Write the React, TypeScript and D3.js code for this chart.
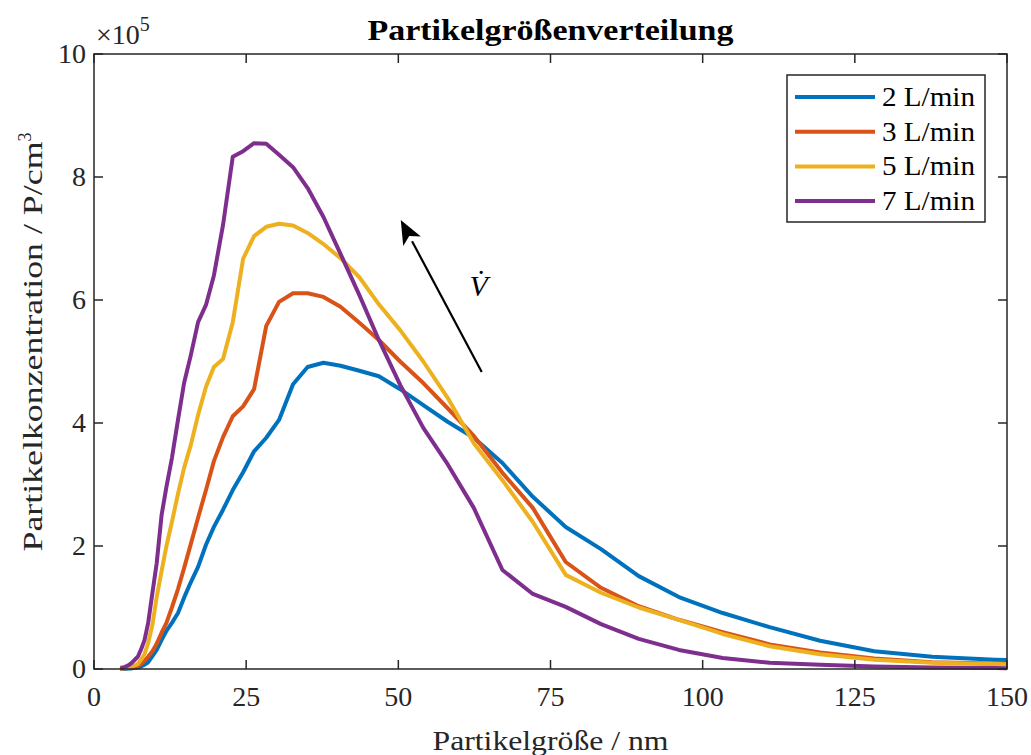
import {useEffect, useRef} from "react";
import * as d3 from "d3";

// particle size channels (nm), log spaced like the SMPS output
const sizes = [4.3, 4.6, 5.0, 5.4, 5.8, 6.2, 6.7, 7.2, 7.7, 8.3, 8.9, 9.6, 10.3, 11.1, 11.9, 12.8, 13.8, 14.8, 15.9, 17.1,
    18.4, 19.7, 21.2, 22.8, 24.5, 26.3, 28.3, 30.4, 32.7, 35.1, 37.7, 40.5, 43.6, 46.8, 50.3, 54.1, 58.1, 62.4, 67.1, 72.1,
    77.5, 83.3, 89.5, 96.1, 103.3, 111.0, 119.3, 128.2, 137.7, 148.0, 159.0];

// concentrations in 1e5 P/cm^3
const flow2 = [0, 0, 0.003, 0.005, 0.01, 0.01, 0.015, 0.025, 0.04, 0.07, 0.11, 0.21, 0.31, 0.47, 0.62, 0.75, 0.91, 1.16, 1.41, 1.66,
    2.02, 2.31, 2.59, 2.91, 3.2, 3.54, 3.76, 4.05, 4.63, 4.91, 4.98, 4.93, 4.85, 4.76, 4.55, 4.29, 4.02, 3.76, 3.35, 2.8,
    2.31, 1.95, 1.51, 1.17, 0.91, 0.68, 0.46, 0.29, 0.2, 0.15, 0.12];
const flow3 = [0, 0.005, 0.01, 0.015, 0.02, 0.025, 0.03, 0.05, 0.08, 0.13, 0.2, 0.29, 0.41, 0.59, 0.75, 1.0, 1.3, 1.64, 2.03, 2.46,
    2.91, 3.38, 3.77, 4.11, 4.27, 4.55, 5.58, 5.97, 6.11, 6.11, 6.05, 5.89, 5.63, 5.35, 5.0, 4.65, 4.24, 3.79, 3.19, 2.62,
    1.74, 1.32, 1.02, 0.8, 0.6, 0.4, 0.27, 0.17, 0.11, 0.09, 0.07];
const flow5 = [0, 0.01, 0.015, 0.025, 0.03, 0.04, 0.06, 0.08, 0.15, 0.24, 0.42, 0.72, 1.17, 1.59, 2.0, 2.39, 2.85, 3.27, 3.64, 4.13,
    4.59, 4.91, 5.04, 5.64, 6.67, 7.04, 7.19, 7.24, 7.21, 7.09, 6.91, 6.68, 6.37, 5.93, 5.51, 5.0, 4.41, 3.67, 3.07, 2.39,
    1.53, 1.24, 1.0, 0.8, 0.57, 0.37, 0.24, 0.15, 0.1, 0.08, 0.06];
const flow7 = [0.02, 0.02, 0.03, 0.05, 0.07, 0.1, 0.15, 0.2, 0.31, 0.47, 0.75, 1.24, 1.72, 2.5, 2.96, 3.43, 4.05, 4.65, 5.1, 5.64,
    5.92, 6.4, 7.22, 8.33, 8.42, 8.55, 8.54, 8.36, 8.16, 7.82, 7.35, 6.75, 6.08, 5.35, 4.62, 3.92, 3.33, 2.62, 1.61, 1.22,
    1.01, 0.73, 0.49, 0.31, 0.18, 0.1, 0.07, 0.04, 0.025, 0.015, 0.01];

const seriesNames = ["2 L/min", "3 L/min", "5 L/min", "7 L/min"];
const seriesColors = ["#0072BD", "#D95319", "#EDB120", "#7E2F8E"];
const xTicks = [0, 25, 50, 75, 100, 125, 150];
const yTicks = [0, 2, 4, 6, 8, 10];

// arrow annotation: from / to in data units
const arrowFrom = [63.7, 4.83];
const arrowTo = [50.4, 7.3];
const arrowLabelAt = [63.2, 6.07];

const FONT = "'Liberation Serif', 'Times New Roman', serif";

export default function App() {
    const ref = useRef<SVGSVGElement>(null);
    const width = 1031, height = 755;
    const left = 94, right = 1007, top = 54, bottom = 669;

    useEffect(() => {
        const svg = d3.select(ref.current);
        svg.selectAll("*").remove();

        const x = d3.scaleLinear().domain([0, 150]).range([left, right]);
        const y = d3.scaleLinear().domain([0, 10]).range([bottom, top]);
        const axisColor = "#262626";

        svg.append("rect").attr("width", width).attr("height", height).attr("fill", "#fff");

        svg.append("defs").append("clipPath").attr("id", "plotclip")
            .append("rect").attr("x", left).attr("y", top - 2).attr("width", right - left).attr("height", bottom - top + 4);

        // lines
        const data = [flow2, flow3, flow5, flow7];
        const line = d3.line<number>()
            .x((_, i) => x(sizes[i]))
            .y(d => y(d));
        svg.append("g").attr("clip-path", "url(#plotclip)")
            .selectAll("path")
            .data(data)
            .join("path")
            .attr("d", d => line(d))
            .attr("fill", "none")
            .attr("stroke", (_, i) => seriesColors[i])
            .attr("stroke-width", 4)
            .attr("stroke-linejoin", "round");

        // axes box with inward ticks
        const tl = 9;
        const g = svg.append("g").attr("stroke", axisColor).attr("stroke-width", 1.5);
        g.append("rect").attr("x", left).attr("y", top).attr("width", right - left).attr("height", bottom - top)
            .attr("fill", "none");
        xTicks.forEach(t => {
            g.append("line").attr("x1", x(t)).attr("x2", x(t)).attr("y1", bottom).attr("y2", bottom - tl);
            g.append("line").attr("x1", x(t)).attr("x2", x(t)).attr("y1", top).attr("y2", top + tl);
        });
        yTicks.forEach(t => {
            g.append("line").attr("x1", left).attr("x2", left + tl).attr("y1", y(t)).attr("y2", y(t));
            g.append("line").attr("x1", right).attr("x2", right - tl).attr("y1", y(t)).attr("y2", y(t));
        });

        const txt = svg.append("g").attr("font-family", FONT).attr("fill", axisColor);
        txt.selectAll(".xt").data(xTicks).join("text")
            .attr("x", d => x(d)).attr("y", 706)
            .attr("text-anchor", "middle").attr("font-size", 28)
            .text(d => d);
        txt.selectAll(".yt").data(yTicks).join("text")
            .attr("x", left - 8).attr("y", d => y(d) + 9)
            .attr("text-anchor", "end").attr("font-size", 28)
            .text(d => d);

        // exponent label
        const ex = txt.append("text").attr("x", left + 2).attr("y", 44).attr("font-size", 28);
        ex.append("tspan").text("×10");
        ex.append("tspan").attr("font-size", 20).attr("dy", -13).text("5");

        // title + axis labels
        svg.append("text").attr("x", (left + right) / 2).attr("y", 40)
            .attr("text-anchor", "middle").attr("font-family", FONT).attr("font-weight", "bold")
            .attr("font-size", 30).attr("fill", "#000")
            .attr("textLength", 366).attr("lengthAdjust", "spacingAndGlyphs")
            .text("Partikelgrößenverteilung");
        txt.append("text").attr("x", (left + right) / 2).attr("y", 750)
            .attr("text-anchor", "middle").attr("font-size", 28)
            .attr("textLength", 236).attr("lengthAdjust", "spacingAndGlyphs")
            .text("Partikelgröße / nm");
        const yl = txt.append("text").attr("transform", "translate(42,342) rotate(-90)")
            .attr("text-anchor", "middle").attr("font-size", 28);
        yl.append("tspan").attr("textLength", 410).attr("lengthAdjust", "spacingAndGlyphs")
            .text("Partikelkonzentration / P/cm");
        yl.append("tspan").attr("font-size", 18).attr("dy", -11).text("3");

        // arrow annotation
        const ax1 = x(arrowFrom[0]), ay1 = y(arrowFrom[1]);
        const ax2 = x(arrowTo[0]), ay2 = y(arrowTo[1]);
        const ang = Math.atan2(ay2 - ay1, ax2 - ax1);
        const hl = 24, hw = 10;
        const bx = ax2 - hl * Math.cos(ang), by = ay2 - hl * Math.sin(ang);
        svg.append("line").attr("x1", ax1).attr("y1", ay1).attr("x2", bx).attr("y2", by)
            .attr("stroke", "#000").attr("stroke-width", 2.2);
        const px = -Math.sin(ang), py = Math.cos(ang);
        const back = ax2 - (hl - 6) * Math.cos(ang), backy = ay2 - (hl - 6) * Math.sin(ang);
        svg.append("path")
            .attr("d", `M${ax2},${ay2} L${bx + hw * px},${by + hw * py} L${back},${backy} L${bx - hw * px},${by - hw * py} Z`)
            .attr("fill", "#000");
        svg.append("text").attr("x", x(arrowLabelAt[0])).attr("y", y(arrowLabelAt[1]))
            .attr("font-family", FONT).attr("font-style", "italic").attr("font-size", 30)
            .attr("text-anchor", "middle").attr("fill", "#000")
            .text("V\u0307");

        // legend
        const lg = svg.append("g");
        const lx = 787, ly = 75, lw = 198, lh = 147;
        lg.append("rect").attr("x", lx).attr("y", ly).attr("width", lw).attr("height", lh)
            .attr("fill", "#fff").attr("stroke", axisColor).attr("stroke-width", 1.5);
        seriesNames.forEach((name, i) => {
            const yy = 97 + i * 34.7;
            lg.append("line").attr("x1", 795).attr("x2", 875).attr("y1", yy).attr("y2", yy)
                .attr("stroke", seriesColors[i]).attr("stroke-width", 4);
            lg.append("text").attr("x", 882).attr("y", yy + 9).attr("font-family", FONT)
                .attr("font-size", 27).attr("fill", "#000")
                .attr("textLength", 93).attr("lengthAdjust", "spacingAndGlyphs")
                .text(name);
        });
    }, []);

    return (
        <div style={{position: "absolute", left: 0, top: 0}}>
            <svg ref={ref} width={width} height={height} style={{display: "block"}} />
        </div>
    );
}
